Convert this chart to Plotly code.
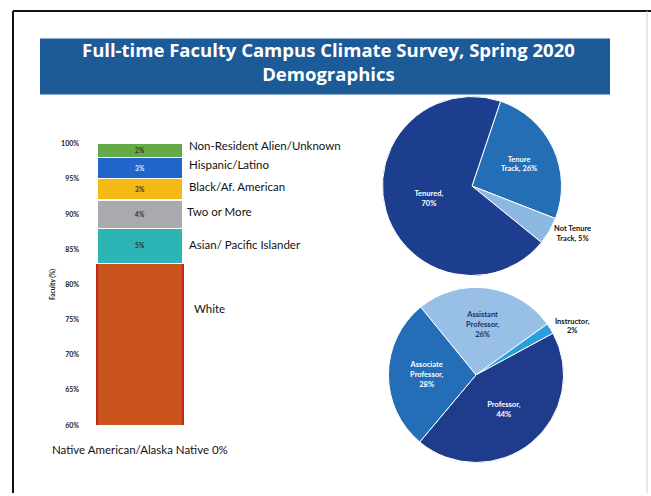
import plotly.graph_objects as go

# ---------------- data ----------------
eth_categories = ["White", "Asian/ Pacific Islander", "Two or More",
                  "Black/Af. American", "Hispanic/Latino", "Non-Resident Alien/Unknown"]
eth_values = [83, 5, 4, 3, 3, 2]
eth_colors = ["#c9541c", "#2db4b4", "#a9a9ae", "#f4b914", "#1f66c8", "#64aa46"]
native_label = "Native American/Alaska Native 0%"

tenure_labels = ["Tenure<br>Track", "Not Tenure<br>Track", "Tenured"]
tenure_values = [26, 5, 70]

rank_labels = ["Assistant<br>Professor", "Instructor", "Professor", "Associate<br>Professor"]
rank_values = [26, 2, 44, 28]

y_ticks = [60, 65, 70, 75, 80, 85, 90, 95, 100]
y_ticktext = [f"{t}%" for t in y_ticks]

title_lines = ["Full-time Faculty Campus Climate Survey, Spring 2020", "Demographics"]

W, H = 651, 496
px = lambda x: x / W
py = lambda y: 1 - y / H

FONT = "Lato"
fig = go.Figure()

# stacked bar
for cat, val, col in zip(eth_categories, eth_values, eth_colors):
    txtcol = "#e8eef8" if cat == "Hispanic/Latino" else "#3a2a20"
    linecol = "#c0281a" if cat == "White" else "white"
    fig.add_trace(go.Bar(
        x=["Faculty"], y=[val], name=cat,
        marker=dict(color=col, line=dict(color=linecol, width=1.2)),
        text=[f"{val}%"], textposition="inside", insidetextanchor="middle",
        textfont=dict(size=6.5, color=txtcol, family=FONT, weight="bold"),
        showlegend=False, hoverinfo="skip",
    ))

fig.update_layout(
    barmode="stack", bargap=0.283,
    xaxis=dict(domain=[px(80), px(200)], visible=False, title=dict(text="")),
    yaxis=dict(domain=[py(427), py(141)], range=[60, 100], tickvals=y_ticks,
               ticktext=y_ticktext, showgrid=False, zeroline=False, showline=False,
               tickfont=dict(size=7, color="#222", family=FONT, weight="bold"),
               title=dict(text="Faculty (%)", standoff=4,
                          font=dict(size=6.5, color="#222", family=FONT, weight="bold"))),
)

# pies
fig.add_trace(go.Pie(
    labels=tenure_labels, values=tenure_values, sort=False, direction="clockwise",
    rotation=18.6,
    marker=dict(colors=["#236eb4", "#8cb9e1", "#1d3e8e"], line=dict(color="white", width=1)),
    texttemplate=["%{label}, %{value}%", "%{label}, %{value}%", "%{label},<br>%{value}%"],
    textposition=["inside", "outside", "inside"],
    insidetextorientation="horizontal",
    textfont=dict(size=7.5, family=FONT, weight="bold", color=["white", "#111", "white"]),
    domain=dict(x=[px(381), px(563)], y=[py(275), py(93)]),
    showlegend=False, hoverinfo="skip",
))
fig.add_trace(go.Pie(
    labels=rank_labels, values=rank_values, sort=False, direction="clockwise",
    rotation=-39.2,
    marker=dict(colors=["#98bfe6", "#2a9fdc", "#1f3c8c", "#246eb8"], line=dict(color="white", width=1)),
    texttemplate="%{label},<br>%{value}%", textposition=["inside", "outside", "inside", "inside"],
    insidetextorientation="horizontal",
    textfont=dict(size=7.5, family=FONT, weight="bold", color=["#1f3060", "#111", "white", "white"]),
    domain=dict(x=[px(387), px(565)], y=[py(465), py(287)]),
    showlegend=False, hoverinfo="skip",
))

shapes = [
    # banner
    dict(type="rect", xref="paper", yref="paper", x0=px(40), x1=px(610), y0=py(91), y1=py(34),
         fillcolor="#1c5b98", line=dict(width=0), layer="below"),
    # frame lines
    dict(type="line", xref="paper", yref="paper", x0=px(13), x1=px(13), y0=0, y1=py(6),
         line=dict(color="#111", width=2)),
    dict(type="line", xref="paper", yref="paper", x0=px(13), x1=1, y0=py(6), y1=py(6),
         line=dict(color="#111", width=2)),
    dict(type="line", xref="paper", yref="paper", x0=px(647), x1=px(647), y0=0, y1=py(6),
         line=dict(color="#cfcfcf", width=1)),
]

annotations = [
    dict(text="<b>" + "<br>".join(title_lines) + "</b>", xref="paper", yref="paper",
         x=px(328), y=py(57), showarrow=False,
         font=dict(size=18.5, color="white", family="Open Sans"),
         xanchor="center", yanchor="middle"),
]
label_pos = {
    "Non-Resident Alien/Unknown": (187, 143),
    "Hispanic/Latino": (187, 162),
    "Black/Af. American": (187, 184),
    "Two or More": (185, 210),
    "Asian/ Pacific Islander": (187, 243),
    "White": (192, 308),
}
for cat in eth_categories:
    x, y = label_pos[cat]
    annotations.append(dict(text=cat, xref="paper", yref="paper", x=px(x), y=py(y),
                            showarrow=False, xanchor="left", yanchor="middle",
                            font=dict(size=11.5, color="#111", family=FONT)))
annotations.append(dict(text=native_label, xref="paper", yref="paper", x=px(50), y=py(452),
                        showarrow=False, xanchor="left", yanchor="middle",
                        font=dict(size=11.5, color="#111", family=FONT)))

fig.update_layout(
    width=W, height=H, margin=dict(l=0, r=0, t=0, b=0),
    paper_bgcolor="white", plot_bgcolor="white",
    shapes=shapes, annotations=annotations,
    uniformtext=dict(minsize=6, mode="show"),
)

fig.write_html("out.html", config={"displayModeBar": False},
               post_script="document.body.style.margin='0';")
